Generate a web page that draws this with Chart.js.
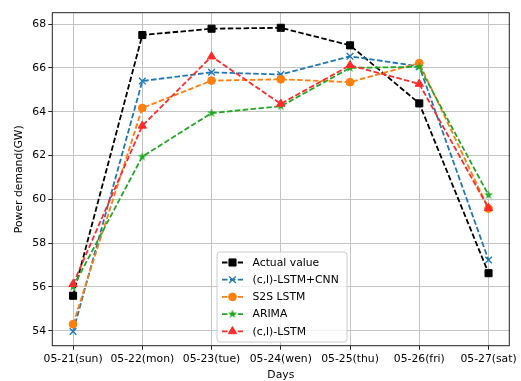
<!DOCTYPE html>
<html><head><meta charset="utf-8">
<script src="https://cdn.jsdelivr.net/npm/chart.js@4"></script>
<style>html,body{margin:0;padding:0;background:#fff}#wrap{width:521px;height:381px}</style>
</head><body><div id="wrap"><canvas id="c" width="521" height="381"></canvas></div>
<script>
const categories = ['05-21(sun)', '05-22(mon)', '05-23(tue)', '05-24(wen)', '05-25(thu)', '05-26(fri)', '05-27(sat)'];
const seriesNames = ['Actual value', '(c,l)-LSTM+CNN', 'S2S LSTM', 'ARIMA', '(c,l)-LSTM'];
const actualValue = [55.6, 67.5, 67.79, 67.83, 67.03, 64.38, 56.63];
const lstmCnn = [53.97, 65.4, 65.8, 65.7, 66.53, 66.07, 57.23];
const s2sLstm = [54.3, 64.17, 65.42, 65.48, 65.35, 66.22, 59.58];
const arima = [56.0, 61.95, 63.94, 64.25, 66.0, 66.05, 60.2];
const clLstm = [56.13, 63.36, 66.52, 64.36, 66.12, 65.27, 59.6];
const yTicks = [54, 56, 58, 60, 62, 64, 66, 68];

const colors = ['#000000', '#1f77b4', '#ff7f0e', '#22a822', '#ff2a2a'];
const FONT = 'DejaVu Sans';
const FS = 10.8;

function starImage(color, r) {
  const s = Math.ceil(r * 2 + 2);
  const c = document.createElement('canvas');
  c.width = s; c.height = s;
  const g = c.getContext('2d');
  g.fillStyle = color;
  g.beginPath();
  for (let i = 0; i < 10; i++) {
    const rr = i % 2 === 0 ? r : r * 0.382;
    const a = -Math.PI / 2 + i * Math.PI / 5;
    const x = s / 2 + rr * Math.cos(a), y = s / 2 + rr * Math.sin(a);
    if (i === 0) g.moveTo(x, y); else g.lineTo(x, y);
  }
  g.closePath(); g.fill();
  return c;
}
const starImg = starImage(colors[3], 4.8);

const styles = [
  {pointStyle: 'rect', pointRadius: 5.0},
  {pointStyle: 'crossRot', pointRadius: 4.7},
  {pointStyle: 'circle', pointRadius: 3.9},
  {pointStyle: starImg, pointRadius: 4.8},
  {pointStyle: 'triangle', pointRadius: 4.8}
];
const allSeries = [actualValue, lstmCnn, s2sLstm, arima, clLstm];

const datasets = allSeries.map((vals, i) => ({
  label: seriesNames[i],
  data: vals.map((v, k) => ({x: k, y: v})),
  borderColor: colors[i],
  backgroundColor: colors[i],
  borderWidth: 1.8,
  borderDash: [5.5, 2.4],
  pointStyle: styles[i].pointStyle,
  pointRadius: styles[i].pointRadius,
  pointBorderWidth: i === 1 ? 1.4 : 1,
  pointBorderColor: colors[i],
  pointBackgroundColor: colors[i],
  order: allSeries.length - i,
  tension: 0
}));

const frame = {
  id: 'frame',
  afterDraw(chart) {
    const {ctx, chartArea: a} = chart;
    ctx.save();
    ctx.strokeStyle = '#222';
    ctx.lineWidth = 1;
    ctx.strokeRect(a.left, a.top, a.right - a.left, a.bottom - a.top);
    // legend
    const bx = 217, by = 252, bw = 130, bh = 90, r = 3;
    ctx.beginPath();
    ctx.moveTo(bx + r, by);
    ctx.arcTo(bx + bw, by, bx + bw, by + bh, r);
    ctx.arcTo(bx + bw, by + bh, bx, by + bh, r);
    ctx.arcTo(bx, by + bh, bx, by, r);
    ctx.arcTo(bx, by, bx + bw, by, r);
    ctx.closePath();
    ctx.fillStyle = 'rgba(255,255,255,0.8)';
    ctx.fill();
    ctx.strokeStyle = '#cccccc';
    ctx.stroke();
    chart.data.datasets.forEach((ds, i) => {
      const y = 262.5 + i * 17.2;
      ctx.save();
      ctx.strokeStyle = ds.borderColor;
      ctx.lineWidth = ds.borderWidth;
      ctx.setLineDash(ds.borderDash);
      ctx.beginPath(); ctx.moveTo(222, y); ctx.lineTo(243, y); ctx.stroke();
      ctx.restore();
      ctx.save();
      ctx.fillStyle = ds.borderColor;
      ctx.strokeStyle = ds.borderColor;
      ctx.lineWidth = ds.pointBorderWidth;
      Chart.helpers.drawPoint(ctx, {
        pointStyle: ds.pointStyle, radius: ds.pointRadius, rotation: 0,
        borderWidth: ds.pointBorderWidth
      }, 232.5, y);
      ctx.restore();
      ctx.fillStyle = '#000';
      ctx.font = FS + 'px "' + FONT + '"';
      ctx.textBaseline = 'middle';
      ctx.textAlign = 'left';
      ctx.fillText(ds.label, 252.5, y + 0.5);
    });
    ctx.restore();
  }
};

Chart.defaults.font.family = FONT;
Chart.defaults.color = '#000';

const chart = new Chart(document.getElementById('c'), {
  type: 'line',
  data: {datasets},
  options: {
    responsive: false,
    devicePixelRatio: 1,
    animation: false,
    events: [],
    layout: {padding: {left: 0, right: 11.7, top: 12.7, bottom: 0}},
    plugins: {legend: {display: false}, tooltip: {enabled: false}},
    scales: {
      x: {
        type: 'linear', min: -0.3, max: 6.3,
        afterBuildTicks: s => { s.ticks = categories.map((c, k) => ({value: k})); },
        afterFit: s => { s.height = 35.3; },
        ticks: {callback: v => categories[v], font: {size: FS}, padding: 3.1, maxRotation: 0, autoSkip: false, color: '#000'},
        grid: {color: '#c4c4c4', lineWidth: 1, tickLength: 4, tickColor: '#222', tickWidth: 1},
        border: {display: false},
        title: {display: true, text: 'Days', font: {size: FS}, padding: {top: 0, bottom: -0.5}, color: '#000'}
      },
      y: {
        type: 'linear', min: 53.32, max: 68.52,
        afterBuildTicks: s => { s.ticks = yTicks.map(v => ({value: v})); },
        afterFit: s => { s.width = 52.3; },
        ticks: {font: {size: FS}, padding: 2.3, color: '#000'},
        grid: {color: '#c4c4c4', lineWidth: 1, tickLength: 4, tickColor: '#222', tickWidth: 1},
        border: {display: false},
        title: {display: true, text: 'Power demand(GW)', font: {size: FS}, padding: {top: 13, bottom: 0}, color: '#000'}
      }
    }
  },
  plugins: [frame]
});
</script></body></html>
